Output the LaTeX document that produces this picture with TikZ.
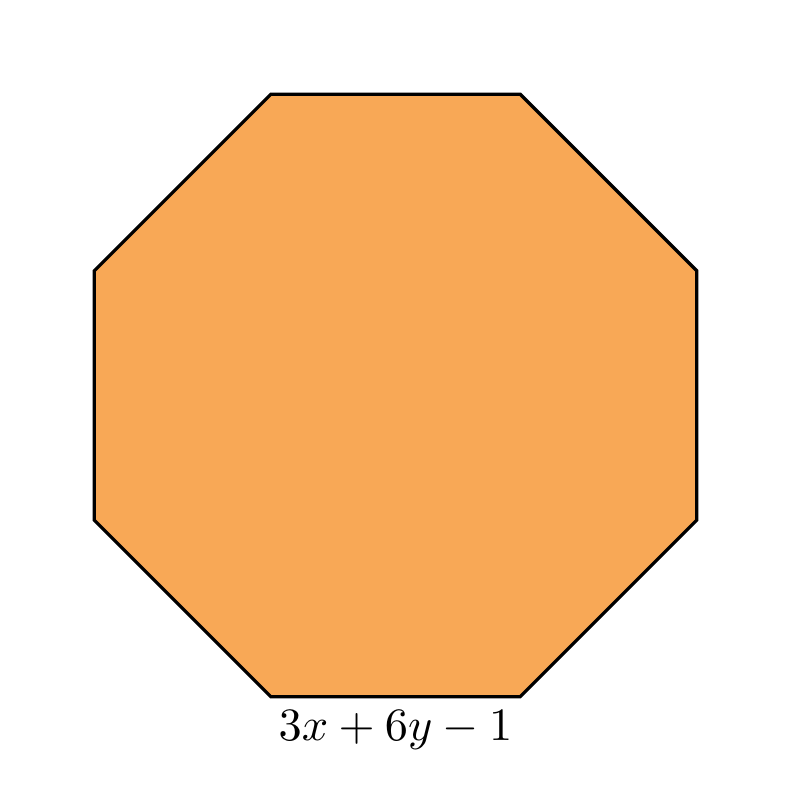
\documentclass[tikz,border=0pt]{standalone}
\usepackage{xcolor}
\usepackage{tikz}
\usetikzlibrary{shapes.geometric,positioning}
\usepackage{amsmath,amssymb}
\definecolor{octfill}{HTML}{F8A856}

\begin{document}
\begin{tikzpicture}[
  oct/.style={draw, line width=0.7pt, fill=octfill, regular polygon, regular polygon sides=8, minimum size=4.946cm, inner sep=0pt}
]
\useasboundingbox (0,0) rectangle (6,6);
\node[oct, label={[label distance=-0.8pt]below:$3x+6y-1$}] (poly) at (3,3) {};
\end{tikzpicture}
\end{document}
